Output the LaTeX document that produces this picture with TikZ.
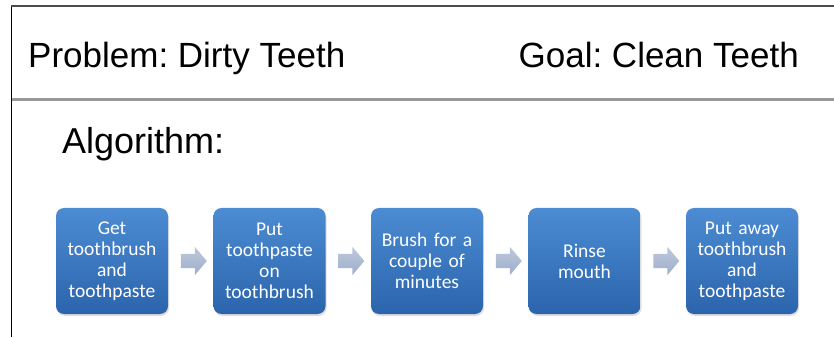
\documentclass[tikz,border=0pt]{standalone}
\usepackage{fontspec}
\setmainfont{Liberation Sans}
\newfontfamily\boxfont{Carlito}
\usetikzlibrary{shapes.arrows,shadows}
\definecolor{stepTop}{HTML}{4C8CD2}
\definecolor{stepBot}{HTML}{2B64AC}
\definecolor{arrowTop}{HTML}{BCC8DC}
\definecolor{arrowBot}{HTML}{9FAFCB}
\tikzset{
  stepbox/.style={rounded corners=8pt, minimum width=112pt, minimum height=106pt,
    top color=stepTop, bottom color=stepBot, draw=none,
    drop shadow={opacity=0.25, shadow xshift=1pt, shadow yshift=-2pt},
    text=white, align=center, text width=104pt, inner sep=0pt,
    font=\boxfont\fontsize{19.5}{21}\selectfont},
  flowarrow/.style={single arrow, top color=arrowTop, bottom color=arrowBot, draw=none,
    inner xsep=0pt, inner ysep=7pt, minimum height=26pt,
    single arrow head extend=7pt, single arrow tip angle=100},
  headtext/.style={inner sep=0pt, font=\fontsize{35}{40}\selectfont}
}
\begin{document}
\frenchspacing
\begin{tikzpicture}[x=1pt,y=1pt]
   \useasboundingbox (0,0) rectangle (834,337);
   % frame
   \draw[line width=1.3pt] (11.5,0) -- (11.5,330.5);
   \draw[black!70,line width=2pt] (10.85,330.5) -- (834,330.5);
   \draw[black!40,line width=3pt] (12,237.5) -- (834,237.5);
   % headings
   \node[headtext,anchor=base west] (problem) at (28,269) {Problem: Dirty Teeth};
   \node[headtext,anchor=base east] (goal) at (799,269) {Goal: Clean Teeth};
   \node[headtext,anchor=base west,font=\fontsize{36}{40}\selectfont] (algo) at (62,183) {Algorithm:};
   % steps
   \node[stepbox] (get) at (112,76) {Get\\toothbrush\\and\\toothpaste};
   \node[stepbox] (put) at (269.5,76) {Put\\toothpaste\\on\\toothbrush};
   \node[stepbox] (brush) at (427,76) {Brush for a\\couple of\\minutes};
   \node[stepbox] (rinse) at (584.5,76) {Rinse\\mouth};
   \node[stepbox] (away) at (742,76) {Put away\\toothbrush\\and\\toothpaste};
   % arrows between steps
   \path (get) -- (put) node[midway,flowarrow] (a1) {};
   \path (put) -- (brush) node[midway,flowarrow] (a2) {};
   \path (brush) -- (rinse) node[midway,flowarrow] (a3) {};
   \path (rinse) -- (away) node[midway,flowarrow] (a4) {};
\end{tikzpicture}
\end{document}
